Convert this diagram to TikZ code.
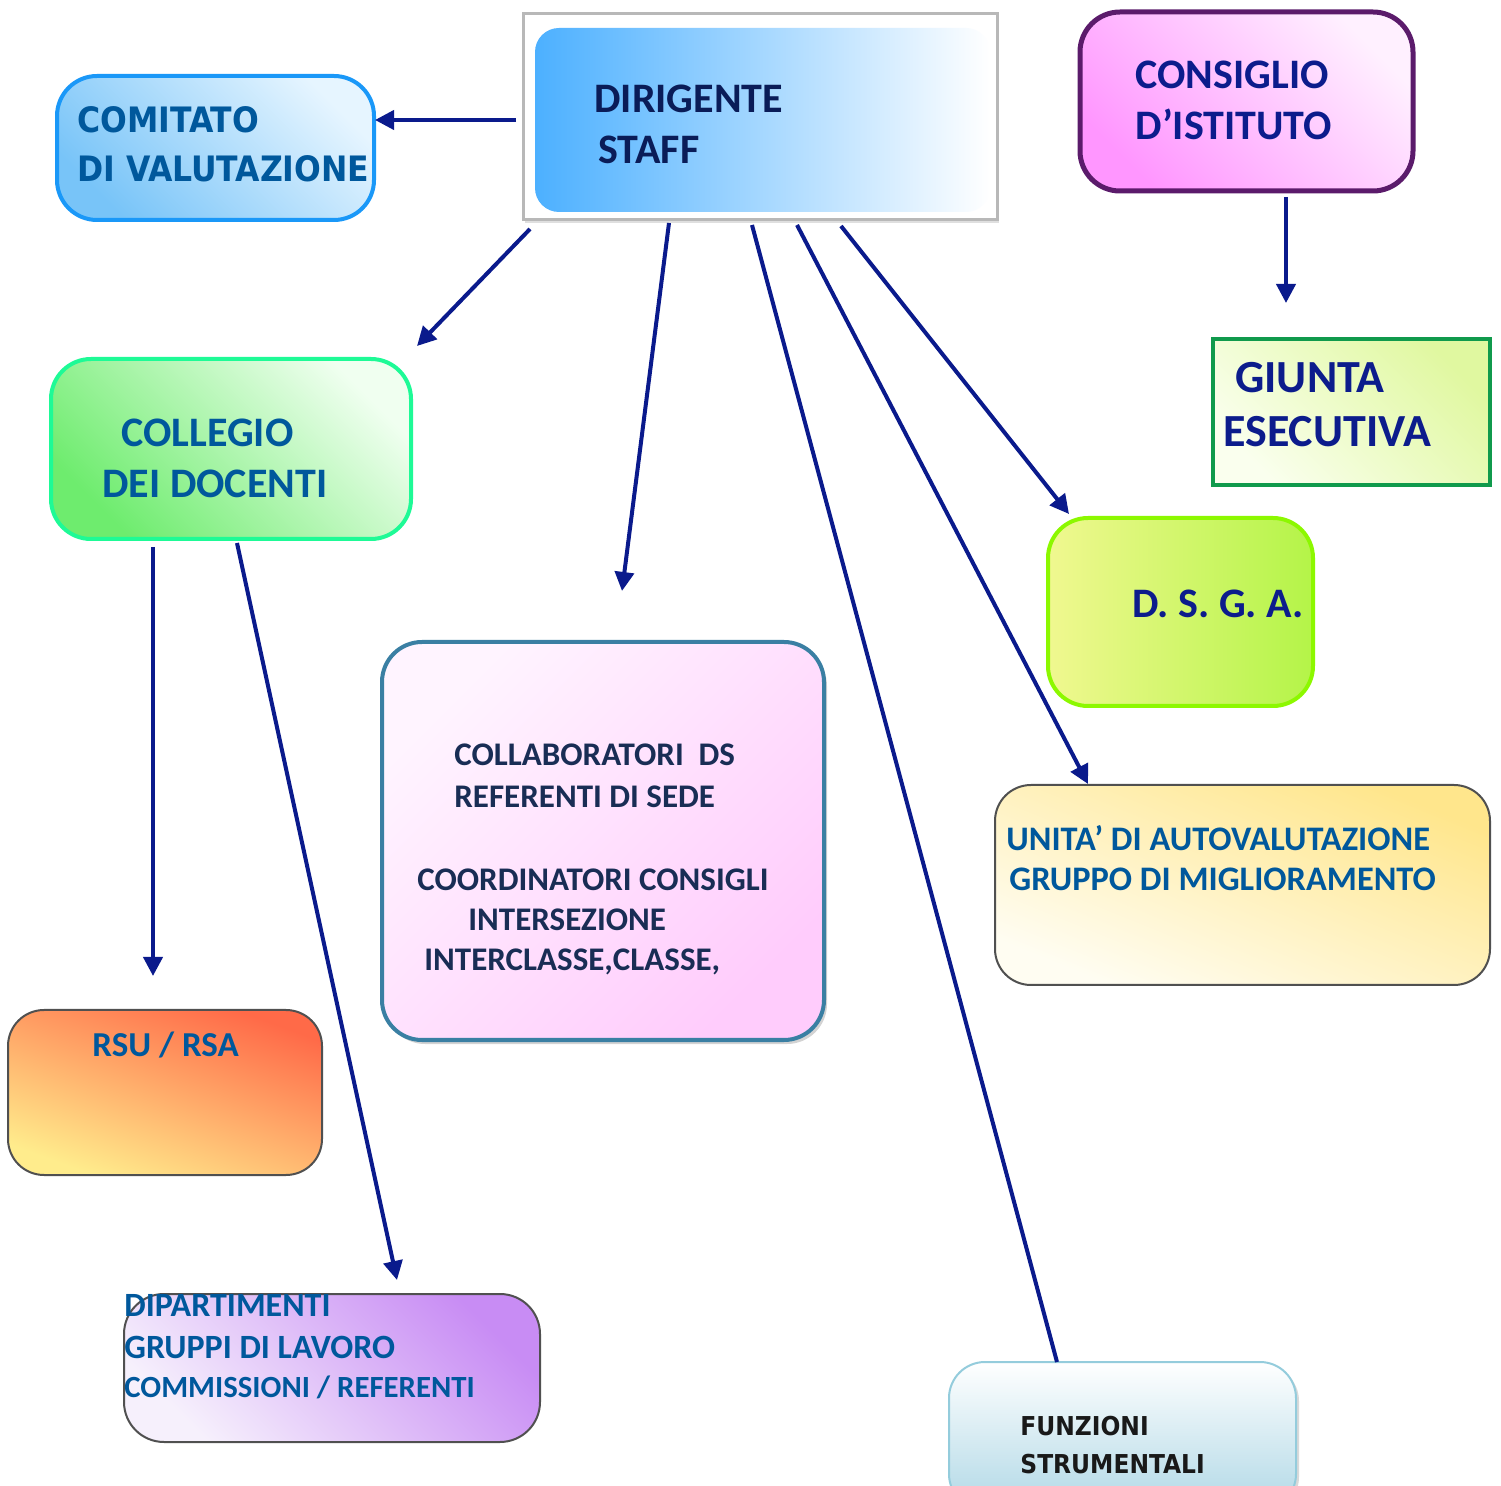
\documentclass[tikz,border=0pt]{standalone}
\usepackage{fontspec}
\setmainfont{Carlito}
\newfontfamily\tahfont{DejaVu Sans Condensed}
\usetikzlibrary{arrows.meta,shadows}
\definecolor{arrowc}{RGB}{10,26,140}
\definecolor{tblue}{RGB}{0,88,156}
\definecolor{tnavy}{RGB}{12,28,140}
\definecolor{tdark}{RGB}{10,28,88}
\definecolor{tslate}{RGB}{25,45,85}
\definecolor{greyline}{RGB}{80,80,80}
\begin{document}
\begin{tikzpicture}[x=0.5pt,y=-0.5pt,
  box/.style={draw, line width=2pt, rounded corners=20pt, inner sep=0pt},
  thinbox/.style={draw=greyline, line width=1pt, rounded corners=18pt, inner sep=0pt},
  lbl/.style={anchor=base west, inner sep=0pt, font=\bfseries},
  arr/.style={draw=arrowc, line width=2pt, -{Triangle[width=9.5pt,length=9.5pt]}},
  plainline/.style={draw=arrowc, line width=2pt}
]
\useasboundingbox (0,0) rectangle (1501,1486);
\begin{scope}
\clip (0,0) rectangle (1501,1486);

% ---------- boxes ----------
\node[draw={rgb,255:red,184;green,184;blue,184}, line width=1.5pt, fill=white, inner sep=0pt,
      minimum width=237pt, minimum height=103pt,
      drop shadow={opacity=0.25, shadow xshift=1pt, shadow yshift=-1.5pt}] (dirF) at (760,117) {};
\node[rounded corners=12pt, inner sep=0pt, minimum width=227.5pt, minimum height=92pt,
      left color={rgb,255:red,76;green,176;blue,255},
      middle color={rgb,255:red,160;green,212;blue,252},
      right color=white] (dirI) at (762.5,120) {};

\node[box, draw={rgb,255:red,26;green,152;blue,248}, minimum width=158.5pt, minimum height=72pt,
      left color={rgb,255:red,120;green,196;blue,248}, right color={rgb,255:red,230;green,245;blue,255},
      shading angle=135] (comitato) at (215.5,148) {};

\node[box, draw={rgb,255:red,91;green,27;blue,107}, line width=2.5pt, minimum width=166.5pt, minimum height=89.5pt,
      left color={rgb,255:red,255;green,150;blue,255}, right color={rgb,255:red,255;green,240;blue,255},
      shading angle=135] (consiglio) at (1246.5,101.5) {};

\node[draw={rgb,255:red,16;green,154;blue,76}, line width=2pt, inner sep=0pt,
      minimum width=138.5pt, minimum height=73pt,
      left color={rgb,255:red,250;green,255;blue,238}, right color={rgb,255:red,224;green,248;blue,160},
      shading angle=135] (giunta) at (1351.5,412) {};

\node[box, draw={rgb,255:red,30;green,250;blue,150}, minimum width=180pt, minimum height=90pt,
      left color={rgb,255:red,110;green,236;blue,110}, right color={rgb,255:red,240;green,255;blue,240},
      shading angle=135] (collegio) at (231,449) {};

\node[box, draw={rgb,255:red,140;green,248;blue,0}, minimum width=132.5pt, minimum height=94pt,
      left color={rgb,255:red,240;green,248;blue,144}, right color={rgb,255:red,180;green,244;blue,72}] (dsga) at (1180.5,612) {};

\node[box, draw={rgb,255:red,58;green,127;blue,163}, minimum width=221pt, minimum height=199pt,
      left color={rgb,255:red,255;green,244;blue,255}, right color={rgb,255:red,255;green,204;blue,252},
      shading angle=45,
      drop shadow={opacity=0.35, shadow xshift=1.5pt, shadow yshift=-2pt}] (collab) at (603,841) {};

\node[thinbox, minimum width=247.5pt, minimum height=100pt,
      left color={rgb,255:red,255;green,253;blue,242}, right color={rgb,255:red,255;green,230;blue,140},
      shading angle=158] (unita) at (1242.5,885) {};

\node[thinbox, minimum width=157pt, minimum height=82.5pt,
      left color={rgb,255:red,255;green,236;blue,140}, right color={rgb,255:red,255;green,106;blue,72},
      shading angle=160] (rsu) at (165,1092.5) {};

\node[thinbox, rounded corners=20pt, minimum width=208pt, minimum height=74pt,
      left color={rgb,255:red,246;green,240;blue,252}, right color={rgb,255:red,200;green,140;blue,244},
      shading angle=135] (dip) at (332,1368) {};

\node[thinbox, draw={rgb,255:red,148;green,204;blue,220}, minimum width=173.5pt, minimum height=74pt,
      top color=white, bottom color={rgb,255:red,176;green,216;blue,230},
      drop shadow={opacity=0.3, shadow xshift=1.5pt, shadow yshift=-1.5pt}] (funz) at (1122.5,1436) {};

% ---------- labels ----------
\begin{scope}[every node/.style={lbl}]
\node[text=tdark, font=\bfseries\fontsize{21}{21}\selectfont] (tdir1) at (594,113) {DIRIGENTE};
\node[text=tdark, font=\bfseries\fontsize{21}{21}\selectfont] (tdir2) at (598,164) {STAFF};

\node[text=tblue, font=\tahfont\bfseries\fontsize{17.5}{17.5}\selectfont] (tcom1) at (77,133) {COMITATO};
\node[text=tblue, font=\tahfont\bfseries\fontsize{17.5}{17.5}\selectfont] (tcom2) at (77,182) {DI VALUTAZIONE};

\node[text=tnavy, font=\bfseries\fontsize{21}{21}\selectfont] (tcon1) at (1135,89) {CONSIGLIO};
\node[text=tnavy, font=\bfseries\fontsize{21}{21}\selectfont] (tcon2) at (1135,140) {D’ISTITUTO};

\node[text=tnavy, font=\bfseries\fontsize{23}{23}\selectfont] (tgiu1) at (1235,393) {GIUNTA};
\node[text=tnavy, font=\bfseries\fontsize{23}{23}\selectfont] (tgiu2) at (1223,447) {ESECUTIVA};

\node[text=tblue, font=\bfseries\fontsize{21}{21}\selectfont] (tcol1) at (121,447) {COLLEGIO};
\node[text=tblue, font=\bfseries\fontsize{21}{21}\selectfont] (tcol2) at (102,498) {DEI DOCENTI};

\node[text=tnavy, font=\bfseries\fontsize{21}{21}\selectfont] (tdsga) at (1132,618) {D. S. G. A.};

\node[text=tslate, font=\bfseries\fontsize{16.5}{16.5}\selectfont] (tcb1) at (454,766) {COLLABORATORI\ \ DS};
\node[text=tslate, font=\bfseries\fontsize{16.5}{16.5}\selectfont] (tcb2) at (454,808) {REFERENTI DI SEDE};
\node[text=tslate, font=\bfseries\fontsize{16.5}{16.5}\selectfont] (tcb3) at (417,891) {COORDINATORI CONSIGLI};
\node[text=tslate, font=\bfseries\fontsize{16.5}{16.5}\selectfont] (tcb4) at (468,931) {INTERSEZIONE};
\node[text=tslate, font=\bfseries\fontsize{16.5}{16.5}\selectfont] (tcb5) at (424,971) {INTERCLASSE,CLASSE,};

\node[text=tblue, font=\bfseries\fontsize{17.2}{17.2}\selectfont] (tun1) at (1006,851) {UNITA’ DI AUTOVALUTAZIONE};
\node[text=tblue, font=\bfseries\fontsize{17.2}{17.2}\selectfont] (tun2) at (1009,891) {GRUPPO DI MIGLIORAMENTO};

\node[text=tblue, font=\bfseries\fontsize{17.5}{17.5}\selectfont] (trsu) at (92,1057) {RSU / RSA};

\node[text=tblue, font=\bfseries\fontsize{17}{17}\selectfont] (tdip1) at (124,1316) {DIPARTIMENTI};
\node[text=tblue, font=\bfseries\fontsize{17}{17}\selectfont] (tdip2) at (124,1358) {GRUPPI DI LAVORO};
\node[text=tblue, font=\bfseries\fontsize{15.4}{15.4}\selectfont] (tdip3) at (124,1397) {COMMISSIONI / REFERENTI};

\node[text=black!90, font=\tahfont\bfseries\fontsize{13}{13}\selectfont] (tfu1) at (1020,1435) {FUNZIONI};
\node[text=black!90, font=\tahfont\bfseries\fontsize{13}{13}\selectfont] (tfu2) at (1020,1473) {STRUMENTALI};
\end{scope}

% ---------- connector end points ----------
\coordinate (s1) at (516,120);  \coordinate (e1) at (375,120);
\coordinate (s2) at (530,229);  \coordinate (e2) at (417,346);
\coordinate (s3) at (669,223);  \coordinate (e3) at (622,591);
\coordinate (s4) at (752,225);  \coordinate (e4) at (1057,1362);
\coordinate (s5) at (797,225);  \coordinate (e5) at (1088,784);
\coordinate (s6) at (841,226);  \coordinate (e6) at (1069,514);
\coordinate (s7) at (1286,197); \coordinate (e7) at (1286,303);
\coordinate (s8) at (153,547);  \coordinate (e8) at (153,976);
\coordinate (s9) at (237,543);  \coordinate (e9) at (397,1280);

% ---------- connectors ----------
\draw[arr] (s1) -- (e1);
\draw[arr] (s2) -- (e2);
\draw[arr] (s3) -- (e3);
\draw[plainline] (s4) -- (e4);
\draw[arr] (s5) -- (e5);
\draw[arr] (s6) -- (e6);
\draw[arr] (s7) -- (e7);
\draw[arr] (s8) -- (e8);
\draw[arr] (s9) -- (e9);
\end{scope}
\end{tikzpicture}
\end{document}
